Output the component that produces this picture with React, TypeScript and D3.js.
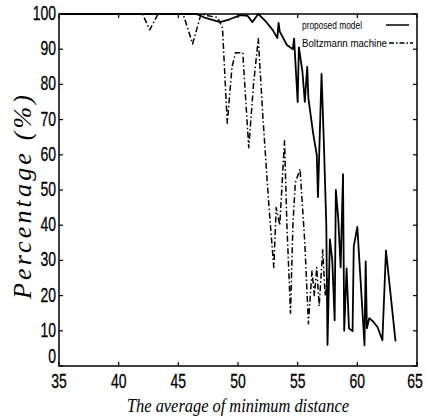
import React from "react";
import * as d3 from "d3";

const xTicks = [35, 40, 45, 50, 55, 60, 65];
const yTicks = [0, 10, 20, 30, 40, 50, 60, 70, 80, 90, 100];

const propX = [35, 46.5, 47.2, 48.5, 49.3, 50.2, 50.8, 51.2, 51.7, 52.3, 52.9, 53.3, 53.4, 53.5, 54.1, 54.6, 54.7, 55.0, 55.1, 55.4, 55.6, 55.8, 55.9, 56.3, 56.6, 56.7, 57.0, 57.2, 57.4, 57.5, 57.7, 57.9, 58.1, 58.2, 58.4, 58.6, 58.8, 58.9, 59.1, 59.3, 59.6, 59.7, 60.0, 60.6, 60.7, 60.8, 61.0, 61.3, 61.7, 62.1, 62.4, 63.2];
const propY = [100, 100, 99, 97.7, 98.5, 99.7, 99.5, 97.7, 100, 98, 95.5, 93.2, 97.5, 95, 91.2, 90, 93, 75, 90.5, 83.6, 75, 85, 76, 66, 60, 48, 83, 63, 40, 6, 36, 30, 13, 50, 42, 28, 54.5, 10, 27.7, 10.7, 9.9, 34, 39.5, 5.9, 29.7, 10.7, 13.6, 12.7, 11, 7.3, 32.8, 7];

const boltzX = [35, 42.0, 42.6, 43.3, 45.4, 46.2, 46.9, 47.5, 48.3, 48.7, 49.1, 49.5, 49.8, 50.4, 50.9, 51.3, 51.7, 52.1, 52.6, 53.0, 53.2, 53.5, 53.9, 54.1, 54.4, 54.6, 54.8, 55.2, 55.6, 55.9, 56.2, 56.4, 56.6, 56.8, 57.1, 57.3, 57.5];
const boltzY = [100, 100, 95.5, 100, 100, 91.5, 100, 99.5, 99, 96, 69, 85, 89, 89, 62, 80, 93, 70, 45, 28, 45, 40, 64, 40, 15, 40, 52, 56, 35, 12, 27, 20, 28, 17, 33, 20, 25];

const seriesNames = ["proposed model", "Boltzmann machine"];

export default function App() {
  const W = 426, H = 416;
  const left = 59, right = 417, top = 14, bottom = 366;
  const x = d3.scaleLinear().domain([35, 65]).range([left, right]);
  const y = d3.scaleLinear().domain([0, 100]).range([bottom, top]);
  const line = d3.line<[number, number]>().x(d => x(d[0])).y(d => y(d[1]));
  const propPath = line(propX.map((v, i) => [v, propY[i]]))!;
  const boltzPath = line(boltzX.map((v, i) => [v, boltzY[i]]))!;
  const tickFont = "Liberation Sans, Arial, sans-serif";
  const serif = "Liberation Serif, Times New Roman, serif";
  return (
    <svg width={W} height={H} style={{ position: "absolute", left: 0, top: 0, background: "#fff" }}>
      <rect x={0} y={0} width={W} height={H} fill="#fff" />
      <rect x={left} y={top} width={right - left} height={bottom - top} fill="none" stroke="#000" strokeWidth={1.5} />
      {xTicks.map(t => (
        <g key={"xt" + t}>
          <line x1={x(t)} x2={x(t)} y1={bottom} y2={bottom - 4} stroke="#000" strokeWidth={1.2} />
          <line x1={x(t)} x2={x(t)} y1={top} y2={top + 4} stroke="#000" strokeWidth={1.2} />
          <text transform={`translate(${x(t) - (t === 65 ? 2 : 0)},388) scale(0.7,1)`} fontFamily={tickFont} fontSize={20} textAnchor="middle" stroke="#000" strokeWidth={0.3}>{t}</text>
        </g>
      ))}
      {yTicks.map(t => (
        <g key={"yt" + t}>
          <line x1={left} x2={left + 4} y1={y(t)} y2={y(t)} stroke="#000" strokeWidth={1.2} />
          <line x1={right} x2={right - 4} y1={y(t)} y2={y(t)} stroke="#000" strokeWidth={1.2} />
          <text transform={`translate(56,${t === 0 ? y(t) - 3 : y(t) + 6}) scale(0.7,1)`} fontFamily={tickFont} fontSize={20} textAnchor="end" stroke="#000" strokeWidth={0.3}>{t}</text>
        </g>
      ))}
      <path d={boltzPath} fill="none" stroke="#000" strokeWidth={1.5} strokeDasharray="6,2.5,1.5,2.5" strokeLinejoin="round" />
      <path d={propPath} fill="none" stroke="#000" strokeWidth={1.8} strokeLinejoin="round" />
      <text x={302} y={29} fontFamily={tickFont} fontSize={11.5} textLength={60} lengthAdjust="spacingAndGlyphs">{seriesNames[0]}</text>
      <line x1={386} x2={409} y1={25} y2={25} stroke="#000" strokeWidth={1.5} />
      <text x={302} y={47} fontFamily={tickFont} fontSize={11.5} textLength={85} lengthAdjust="spacingAndGlyphs">{seriesNames[1]}</text>
      <line x1={389} x2={413} y1={43} y2={43} stroke="#000" strokeWidth={1.3} strokeDasharray="5,2,1.5,2" />
      <text x={238} y={412} fontFamily={serif} fontStyle="italic" fontSize={18} textAnchor="middle" textLength={222} lengthAdjust="spacingAndGlyphs">The average of minimum distance</text>
      <text transform="translate(31,197) rotate(-90)" fontFamily={serif} fontStyle="italic" fontSize={26} textAnchor="middle" textLength={204} lengthAdjust="spacing">Percentage (%)</text>
    </svg>
  );
}
